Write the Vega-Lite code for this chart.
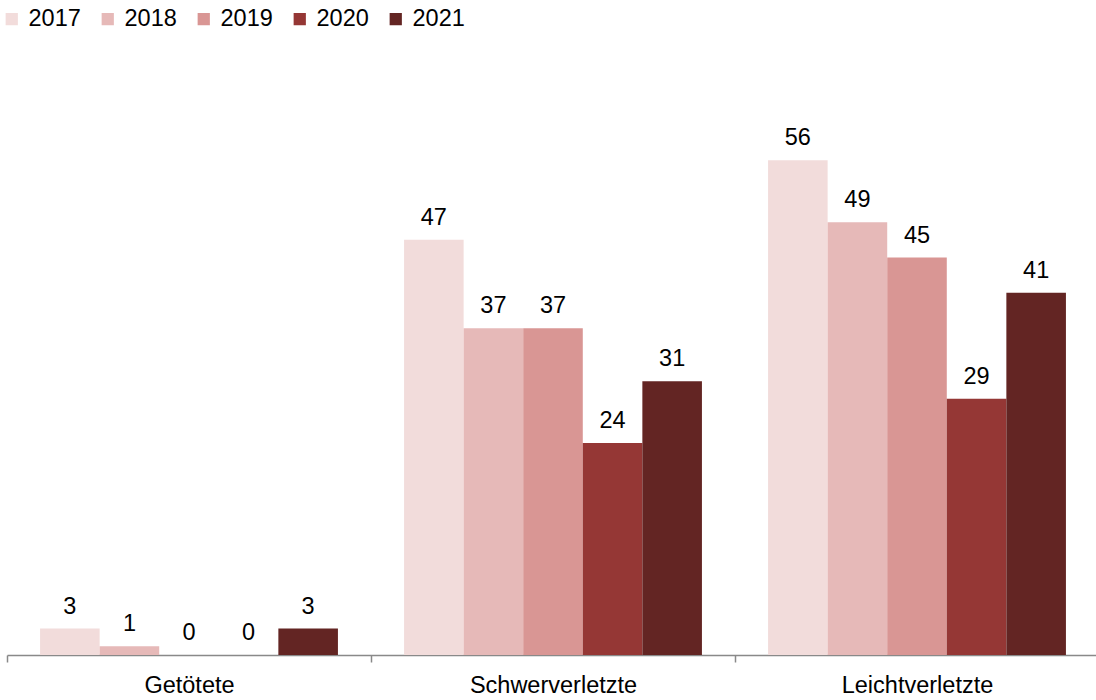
{
  "$schema": "https://vega.github.io/schema/vega-lite/v6.json",
  "autosize": "none",
  "width": 1092,
  "height": 530,
  "padding": {"left": 7, "top": 125, "right": 0, "bottom": 45},
  "background": "white",
  "config": {
    "font": "Liberation Sans",
    "view": {"stroke": null},
    "text": {"font": "Liberation Sans"}
  },
  "data": {
    "values": [
      {"category": "Getötete", "year": "2017", "value": 3},
      {"category": "Getötete", "year": "2018", "value": 1},
      {"category": "Getötete", "year": "2019", "value": 0},
      {"category": "Getötete", "year": "2020", "value": 0},
      {"category": "Getötete", "year": "2021", "value": 3},
      {"category": "Schwerverletzte", "year": "2017", "value": 47},
      {"category": "Schwerverletzte", "year": "2018", "value": 37},
      {"category": "Schwerverletzte", "year": "2019", "value": 37},
      {"category": "Schwerverletzte", "year": "2020", "value": 24},
      {"category": "Schwerverletzte", "year": "2021", "value": 31},
      {"category": "Leichtverletzte", "year": "2017", "value": 56},
      {"category": "Leichtverletzte", "year": "2018", "value": 49},
      {"category": "Leichtverletzte", "year": "2019", "value": 45},
      {"category": "Leichtverletzte", "year": "2020", "value": 29},
      {"category": "Leichtverletzte", "year": "2021", "value": 41}
    ]
  },
  "encoding": {
    "x": {
      "field": "category",
      "type": "nominal",
      "sort": ["Getötete", "Schwerverletzte", "Leichtverletzte"],
      "scale": {"paddingInner": 0, "paddingOuter": 0},
      "axis": {
        "title": null,
        "labelAngle": 0,
        "labelFontSize": 23.5,
        "labelColor": "#000000",
        "labelFont": "Liberation Sans",
        "labelPadding": 11,
        "tickBand": "extent",
        "tickSize": 7,
        "tickColor": "#898989",
        "domainColor": "#898989",
        "domainWidth": 1.5,
        "tickWidth": 1.5
      }
    },
    "xOffset": {
      "field": "year",
      "type": "nominal",
      "scale": {"paddingInner": 0, "paddingOuter": 0.555}
    },
    "y": {
      "field": "value",
      "type": "quantitative",
      "scale": {"domain": [0, 60], "nice": false},
      "axis": null
    }
  },
  "layer": [
    {
      "mark": {"type": "bar"},
      "encoding": {
        "color": {
          "field": "year",
          "type": "nominal",
          "scale": {
            "domain": ["2017", "2018", "2019", "2020", "2021"],
            "range": ["#f2dcdb", "#e6b9b8", "#d99694", "#953735", "#632523"]
          },
          "legend": {
            "title": null,
            "orient": "none",
            "legendX": -7,
            "legendY": -118,
            "direction": "horizontal",
            "columns": 5,
            "symbolType": "square",
            "symbolSize": 150,
            "symbolStrokeWidth": 0,
            "labelFontSize": 23.5,
            "labelFont": "Liberation Sans",
            "labelColor": "#000000",
            "labelOffset": 5,
            "columnPadding": 15
          }
        }
      }
    },
    {
      "mark": {"type": "text", "baseline": "alphabetic", "dy": -15, "fontSize": 23.5, "color": "#000000", "font": "Liberation Sans"},
      "encoding": {
        "text": {"field": "value", "type": "quantitative"}
      }
    }
  ]
}
